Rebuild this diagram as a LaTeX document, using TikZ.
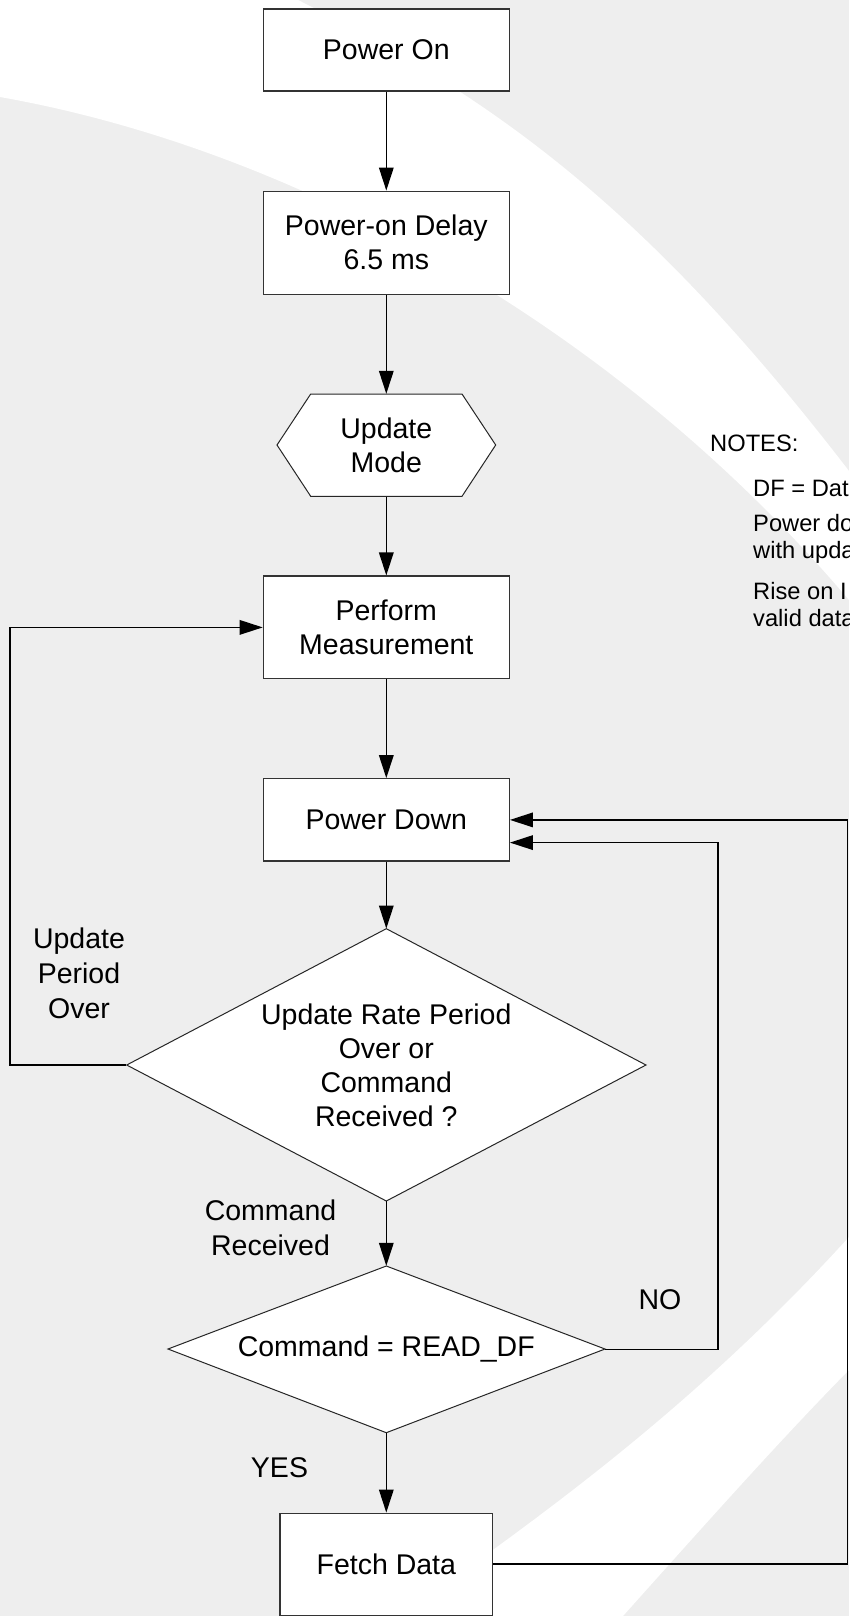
\documentclass[tikz,border=0pt]{standalone}
\usepackage{fontspec}
\setmainfont{Liberation Sans}
\usetikzlibrary{arrows.meta,calc}
\definecolor{bggray}{RGB}{238,238,238}
\definecolor{edgegray}{RGB}{51,51,51}
\newcommand{\mainfs}{\fontsize{28.5}{34}\selectfont}
\newcommand{\notefs}{\fontsize{23.7}{27}\selectfont}
\begin{document}
\begin{tikzpicture}[x=1pt,y=-1pt,
  box/.style={draw=edgegray,line width=1.2pt,fill=white,minimum width=246pt,inner sep=0pt,align=center,font=\mainfs},
  shapeline/.style={draw=black!85,line width=1pt,fill=white},
  holder/.style={inner sep=0pt,align=center,font=\mainfs},
  lbl/.style={inner sep=0pt,align=center,font=\fontsize{28.5}{35}\selectfont},
  conn/.style={line width=1.6pt,-{Triangle[length=23pt,width=14.5pt]}},
  note/.style={inner sep=0pt,anchor=base west,font=\notefs}
]
\useasboundingbox (0,0) rectangle (849,1616);
\clip (0,0) rectangle (849,1616);
% background
\fill[bggray] (0,0) rectangle (849,1616);
\fill[white] (0,0) -- (298,0) .. controls (498,100) and (649,211) .. (849,471)
  -- (849,600) .. controls (620,330) and (300,150) .. (0,97) -- cycle;
\fill[white] (849,1237) .. controls (699,1402) and (550,1511) .. (400,1616)
  -- (623,1616) .. controls (700,1530) and (780,1440) .. (849,1370) -- cycle;

% shapes drawn as paths
\draw[shapeline] (310.7,394) -- (462,394) -- (495.7,445) -- (462,496.3) -- (310.7,496.3) -- (277,445) -- cycle;
\draw[shapeline] (386.3,928.7) -- (646,1065) -- (386.3,1201) -- (126.7,1065) -- cycle;
\draw[shapeline] (386.3,1266) -- (605,1349) -- (386.3,1432.7) -- (168,1349) -- cycle;

% nodes
\node[box,minimum height=82pt] (pon) at (386.3,50) {Power On};
\node[box,minimum height=103pt] (delay) at (386.3,242.7) {Power-on Delay\\6.5 ms};
\node[holder,minimum width=218.7pt,minimum height=102.3pt] (hex) at (386.3,445.2) {Update\\Mode};
\node[box,minimum height=102.7pt] (pm) at (386.3,627.4) {Perform\\Measurement};
\node[box,minimum height=82.3pt] (pd) at (386.3,819.9) {Power Down};
\node[holder,minimum width=519.3pt,minimum height=272.3pt] (d1) at (386.3,1064.9) {Update Rate Period\\Over or\\Command\\Received ?};
\node[holder,minimum width=437pt,minimum height=166.7pt] (d2) at (386.3,1349.4) {Command = READ\_DF};
\node[box,minimum width=212.5pt,minimum height=102pt] (fetch) at (386.3,1564.2) {Fetch Data};

% labels
\node[lbl] (lupd) at (79,973) {Update\\Period\\Over};
\node[lbl] (lcmd) at (270.5,1227.5) {Command\\Received};
\node[lbl] (lyes) at (279.5,1468) {YES};
\node[lbl] (lno) at (660,1300) {NO};

% notes (cut off by the right edge, as in the reference)
\node[note] (n0) at (710,451.5) {NOTES:};
\node[note] (n1) at (753,496) {DF = Dat};
\node[note] (n2) at (753,531.5) {Power do};
\node[note] (n3) at (753,558.5) {with upda};
\node[note] (n4) at (753,599) {Rise on I};
\node[note] (n5) at (753,626) {valid data};

% helper coordinates
\coordinate (lx) at (10,0);
\coordinate (nx) at (718,0);
\coordinate (rx) at (847.5,0);
\coordinate (pdin2) at ($(pd.east)+(0,22.7)$);

% connectors
\draw[conn] (pon.south) -- (delay.north);
\draw[conn] (delay.south) -- (hex.north);
\draw[conn] (hex.south) -- (pm.north);
\draw[conn] (pm.south) -- (pd.north);
\draw[conn] (pd.south) -- (d1.north);
\draw[conn] (d1.south) -- (d2.north);
\draw[conn] (d2.south) -- (fetch.north);
\draw[conn] (d1.west) -- (d1.west -| lx) |- (pm.west);
\draw[conn] (d2.east) -- (d2.east -| nx) |- (pdin2);
\draw[conn] (fetch.east) -- (fetch.east -| rx) |- (pd.east);
\end{tikzpicture}
\end{document}
